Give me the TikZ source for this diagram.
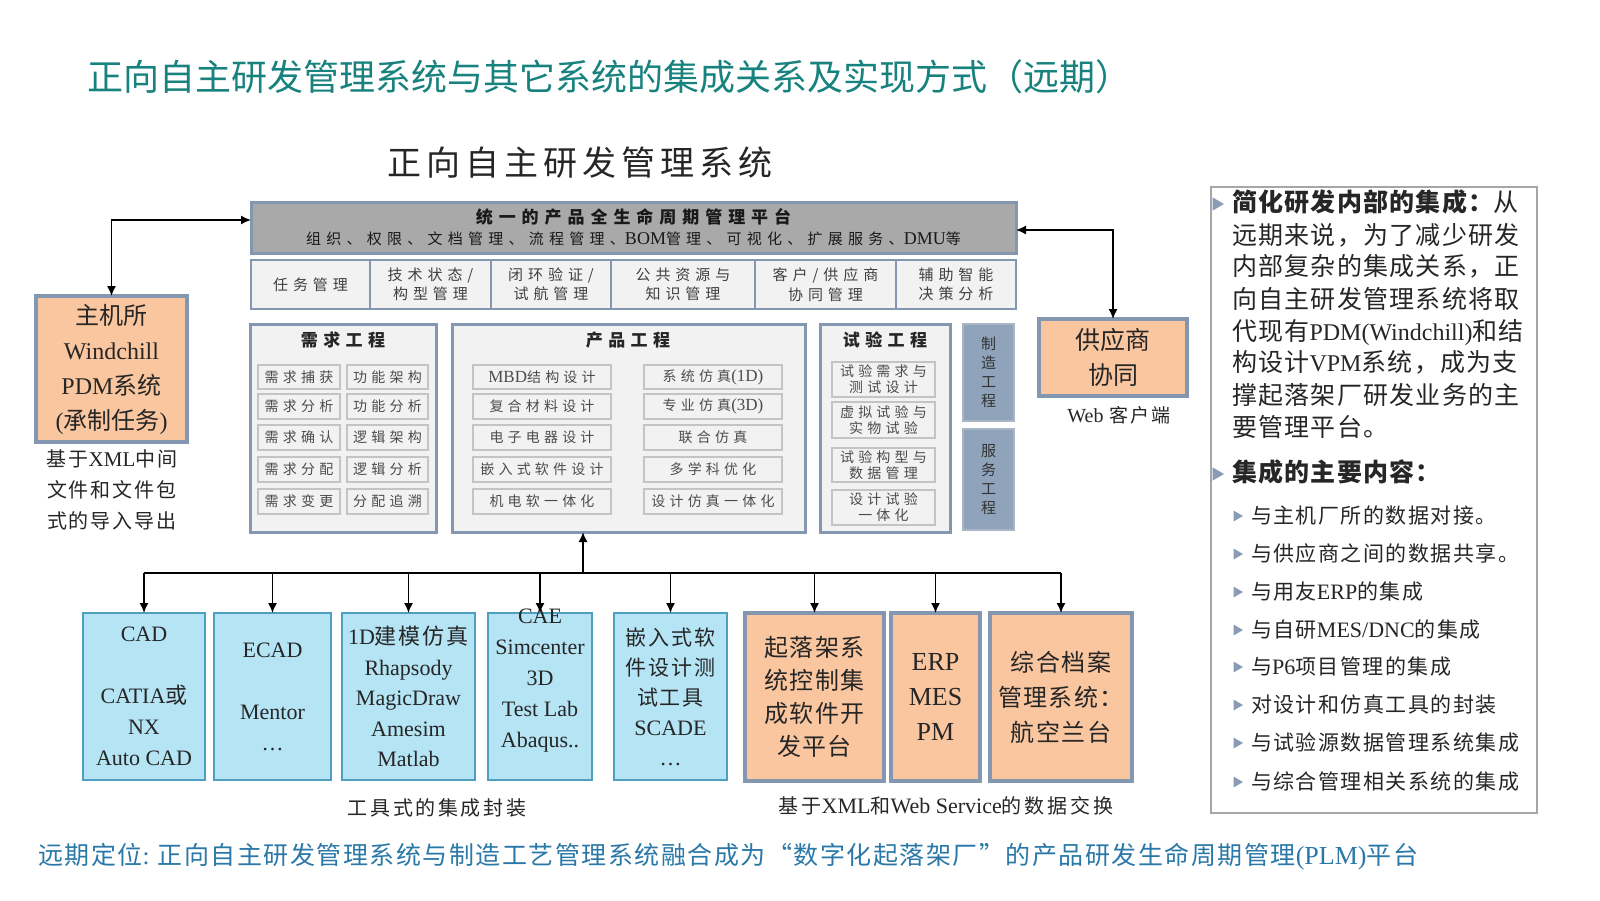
\documentclass[tikz,border=0pt]{standalone}
\usepackage{fontspec}
\setmainfont{Noto Sans CJK SC}
\newfontfamily\lat{Liberation Serif}
\newfontfamily\cjf{Noto Sans CJK SC}
\usetikzlibrary{arrows.meta}
\definecolor{ttl}{HTML}{17827E}
\definecolor{btm}{HTML}{2A78A8}
\definecolor{platfill}{HTML}{A9A9A9}
\definecolor{slate}{HTML}{8497B0}
\definecolor{lightfill}{HTML}{F2F2F2}
\definecolor{innerbd}{HTML}{C4C4C4}
\definecolor{vfill}{HTML}{8FA3BA}
\definecolor{peach}{HTML}{F9C6A0}
\definecolor{sky}{HTML}{B5E4F5}
\definecolor{skybd}{HTML}{4F9FC0}
\definecolor{bullet}{HTML}{8A9BB5}
\definecolor{panelbd}{HTML}{A6A6A6}
\newcommand\setfs[3]{\fontsize{#1}{#2}\selectfont\addfontfeature{LetterSpace=#3}}
\newcommand\latw[2]{{\fontsize{#1}{#1}\lat #2}}
\newcommand\rbox[7]{\node[#2,minimum width={0.5pt*(#5-#3)},minimum height={0.5pt*(#6-#4)}] (#1) at ({(#3+#5)/2},{(#4+#6)/2}) {#7};}
\newcommand\tri[3]{\fill[bullet] ({#1-#3*0.45},{#2-#3*0.55}) -- ({#1+#3*0.5},#2) -- ({#1-#3*0.45},{#2+#3*0.55}) -- cycle;}
\tikzset{
  every node/.style={inner sep=0pt, outer sep=0pt},
  platbox/.style={draw=slate, line width=1.5pt, fill=platfill, align=center, text=black!90, font=\setfs{7.5}{10.5}{35}},
  rowbox/.style={draw=slate, line width=1.2pt, fill=lightfill, align=center, text=black!75, font=\setfs{7.5}{9.75}{33}},
  engbox/.style={draw=slate, line width=1.5pt, fill=lightfill},
  engtitle/.style={font=\bfseries\setfs{8.5}{10}{32}, text=black!85},
  inbox/.style={draw=innerbd, line width=0.6pt, fill=lightfill, align=center, text=black!70, font=\setfs{7}{8}{30}},
  vbox/.style={draw=slate!70, line width=0.8pt, fill=vfill, align=center, text=black!80, font=\setfs{7.5}{9.5}{0}},
  peachbox/.style={draw=slate, line width=2pt, fill=peach, align=center, text=black!85},
  skybox/.style={draw=skybd, line width=0.7pt, fill=sky, align=center, text=black!85},
  panel/.style={draw=panelbd, line width=0.6pt},
  pline/.style={anchor=west, text height=0.76em, text depth=0pt, text=black!85},
  conn/.style={line width=0.75pt},
  arr/.style={conn, ->},
  arr2/.style={conn, <->},
}
\begin{document}
\begin{tikzpicture}[x=0.5pt,y=-0.5pt, >={Latex[length=5pt,width=4.5pt]}]
\fill[white] (0,0) rectangle (1600,900);
\useasboundingbox (0,0) rectangle (1600,900);

% titles
\node[anchor=west, text=ttl, font=\setfs{18}{20}{0}] (title) at (87,77) {正向自主研发管理系统与其它系统的集成关系及实现方式（远期）};
\node[text=black!85, font=\setfs{17}{20}{15}] (subtitle) at (580,163) {正向自主研发管理系统};

% platform
\rbox{plat}{platbox}{251}{202}{1016}{253}{{\bfseries\setfs{8.5}{10.5}{35}统一的产品全生命周期管理平台}\\组织、权限、文档管理、流程管理、\latw{9}{BOM}管理、可视化、扩展服务、\latw{9}{DMU}等}
\rbox{r1}{rowbox}{251}{260}{370}{309}{任务管理}
\rbox{r2}{rowbox}{370}{260}{491}{309}{技术状态/\\构型管理}
\rbox{r3}{rowbox}{491}{260}{611}{309}{闭环验证/\\试航管理}
\rbox{r4}{rowbox}{611}{260}{755}{309}{公共资源与\\知识管理}
\rbox{r5}{rowbox}{755}{260}{896}{309}{客户/供应商\\协同管理}
\rbox{r6}{rowbox}{896}{260}{1016}{309}{辅助智能\\决策分析}

% engineering boxes
\rbox{xq}{engbox}{250}{324}{436}{532}{}
\rbox{cp}{engbox}{452}{324}{805}{532}{}
\rbox{sy}{engbox}{820}{324}{950}{532}{}
\node[engtitle] (xqt) at (343,340) {需求工程};
\node[engtitle] (cpt) at (628,340) {产品工程};
\node[engtitle] (syt) at (885,340) {试验工程};
\rbox{zz}{vbox}{963}{324}{1014}{421}{制\\造\\工\\程}
\rbox{fw}{vbox}{963}{429}{1014}{530}{服\\务\\工\\程}

% 需求工程 items
\rbox{q1}{inbox}{258}{365}{340}{389}{需求捕获}
\rbox{q2}{inbox}{258}{394}{340}{419}{需求分析}
\rbox{q3}{inbox}{258}{425}{340}{450}{需求确认}
\rbox{q4}{inbox}{258}{457}{340}{482}{需求分配}
\rbox{q5}{inbox}{258}{489}{340}{514}{需求变更}
\rbox{q6}{inbox}{347}{365}{428}{389}{功能架构}
\rbox{q7}{inbox}{347}{394}{428}{419}{功能分析}
\rbox{q8}{inbox}{347}{425}{428}{450}{逻辑架构}
\rbox{q9}{inbox}{347}{457}{428}{482}{逻辑分析}
\rbox{q10}{inbox}{347}{489}{428}{514}{分配追溯}

% 产品工程 items
\rbox{c1}{inbox}{473}{365}{611}{389}{\latw{8.5}{MBD}结构设计}
\rbox{c2}{inbox}{473}{394}{611}{419}{复合材料设计}
\rbox{c3}{inbox}{473}{425}{611}{450}{电子电器设计}
\rbox{c4}{inbox}{473}{457}{611}{482}{嵌入式软件设计}
\rbox{c5}{inbox}{473}{489}{611}{514}{机电软一体化}
\rbox{c6}{inbox}{644}{365}{782}{389}{系统仿真\latw{8.5}{(1D)}}
\rbox{c7}{inbox}{644}{394}{782}{419}{专业仿真\latw{8.5}{(3D)}}
\rbox{c8}{inbox}{644}{425}{782}{450}{联合仿真}
\rbox{c9}{inbox}{644}{457}{782}{482}{多学科优化}
\rbox{c10}{inbox}{644}{489}{782}{514}{设计仿真一体化}

% 试验工程 items
\rbox{s1}{inbox}{832}{362}{935}{397}{试验需求与\\测试设计}
\rbox{s2}{inbox}{832}{402}{935}{438}{虚拟试验与\\实物试验}
\rbox{s3}{inbox}{832}{448}{935}{482}{试验构型与\\数据管理}
\rbox{s4}{inbox}{832}{490}{935}{525}{设计试验\\一体化}

% left and right systems
\rbox{zj}{peachbox, font=\setfs{12}{17.5}{0}}{36}{296}{187}{442}{主机所\\\latw{12}{Windchill}\\\latw{12}{PDM}系统\\{\lat(}承制任务{\lat)}}
\node[align=center, text=black!85, font=\setfs{10}{15.5}{10}] (zjl) at (112,490) {基于\latw{10.5}{XML}中间\\文件和文件包\\式的导入导出};
\rbox{gys}{peachbox, font=\setfs{12.5}{17.5}{0}}{1039}{319}{1187}{396}{供应商\\协同}
\node[text=black!85, font=\setfs{9.5}{11}{10}] (gysl) at (1119,415) {\latw{10}{Web} 客户端};

% bottom tools
\rbox{cad}{skybox, font=\lat\fontsize{11}{15.5}\selectfont}{83}{613}{205}{780}{CAD\\\strut\\CATIA{\cjf 或}\\NX\\Auto CAD}
\rbox{ecad}{skybox, font=\lat\fontsize{11}{15.5}\selectfont}{214}{613}{331}{780}{ECAD\\\strut\\Mentor\\…}
\rbox{oned}{skybox, font=\setfs{11}{15.25}{9}}{342}{613}{475}{780}{\latw{11}{1D}建模仿真\\\latw{11}{Rhapsody}\\\latw{11}{MagicDraw}\\\latw{11}{Amesim}\\\latw{11}{Matlab}}
\rbox{cae}{skybox}{488}{613}{592}{780}{}
\node[align=center, text=black!85, font=\lat\fontsize{11}{15.5}\selectfont] (caet) at (540,681) {CAE\\Simcenter\\3D\\Test Lab\\Abaqus..};
\rbox{qrs}{skybox, font=\setfs{10.5}{15}{8}}{614}{613}{727}{780}{嵌入式软\\件设计测\\试工具\\\latw{11}{SCADE}\\\latw{11}{…}}
\rbox{qlj}{peachbox, font=\setfs{12}{16.5}{6}}{745}{613}{884}{781}{起落架系\\统控制集\\成软件开\\发平台}
\rbox{erp}{peachbox, font=\lat\fontsize{13}{17.5}\selectfont}{891}{613}{980}{781}{ERP\\MES\\PM}
\rbox{zh}{peachbox, font=\setfs{12}{17.5}{6}}{990}{613}{1132}{781}{综合档案\\管理系统：\\航空兰台}

\node[text=black!85, font=\setfs{10}{12}{13}] (lb1) at (437,808) {工具式的集成封装};
\node[text=black!85, font=\setfs{10}{12}{14}] (lb2) at (946,806) {基于\latw{11}{XML}和\latw{11}{Web Service}的数据交换};

% connectors
\coordinate (lk) at (111.5,220);
\draw[arr2] (zj.north) -- (zj.north |- lk) -- (plat.west |- lk);
\coordinate (rk) at (1113,230);
\draw[arr2] (gys.north) -- (gys.north |- rk) -- (plat.east |- rk);
\coordinate (bus) at (583,573);
\draw[arr] (bus) -- (bus |- cp.south);
\draw[conn] (cad.north |- bus) -- (zh.north |- bus);
\foreach \b in {cad,ecad,oned,cae,qrs,qlj,erp,zh}
  \draw[arr] (\b.north |- bus) -- (\b.north);

% right panel
\draw[panel] (1211,187) rectangle (1537,813);
\tri{1218}{204}{12}
\node[pline, font=\setfs{12.5}{16}{5}] (p1) at (1232,204) {{\bfseries 简化研发内部的集成：}从};
\node[pline, font=\setfs{12.5}{16}{5}] (p2) at (1232,237) {远期来说，为了减少研发};
\node[pline, font=\setfs{12.5}{16}{5}] (p3) at (1232,268) {内部复杂的集成关系，正};
\node[pline, font=\setfs{12.5}{16}{5}] (p4) at (1232,301) {向自主研发管理系统将取};
\node[pline, font=\setfs{12.5}{16}{5}] (p5) at (1232,333) {代现有\latw{12}{PDM(Windchill)}和结};
\node[pline, font=\setfs{12.5}{16}{5}] (p6) at (1232,364) {构设计\latw{12}{VPM}系统，成为支};
\node[pline, font=\setfs{12.5}{16}{5}] (p7) at (1232,397) {撑起落架厂研发业务的主};
\node[pline, font=\setfs{12.5}{16}{5}] (p8) at (1232,429) {要管理平台。};
\tri{1218}{474}{12}
\node[pline, font=\bfseries\setfs{12.5}{16}{5}] (p9) at (1232,474) {集成的主要内容：};
\tri{1238}{516}{10}
\node[pline, font=\setfs{10.5}{12}{7}] (b1) at (1251,516) {与主机厂所的数据对接。};
\tri{1238}{554}{10}
\node[pline, font=\setfs{10.5}{12}{7}] (b2) at (1251,554) {与供应商之间的数据共享。};
\tri{1238}{592}{10}
\node[pline, font=\setfs{10.5}{12}{7}] (b3) at (1251,592) {与用友\latw{11}{ERP}的集成};
\tri{1238}{630}{10}
\node[pline, font=\setfs{10.5}{12}{7}] (b4) at (1251,630) {与自研\latw{11}{MES/DNC}的集成};
\tri{1238}{667}{10}
\node[pline, font=\setfs{10.5}{12}{7}] (b5) at (1251,667) {与\latw{11}{P6}项目管理的集成};
\tri{1238}{705}{10}
\node[pline, font=\setfs{10.5}{12}{7}] (b6) at (1251,705) {对设计和仿真工具的封装};
\tri{1238}{743}{10}
\node[pline, font=\setfs{10.5}{12}{7}] (b7) at (1251,743) {与试验源数据管理系统集成};
\tri{1238}{782}{10}
\node[pline, font=\setfs{10.5}{12}{7}] (b8) at (1251,782) {与综合管理相关系统的集成};

% bottom statement
\node[anchor=west, text=btm, font=\setfs{12.5}{14}{6}] (stmt) at (38,857) {远期定位{\lat: }正向自主研发管理系统与制造工艺管理系统融合成为“数字化起落架厂”的产品研发生命周期管理\latw{13}{(PLM)}平台};
\end{tikzpicture}
\end{document}
